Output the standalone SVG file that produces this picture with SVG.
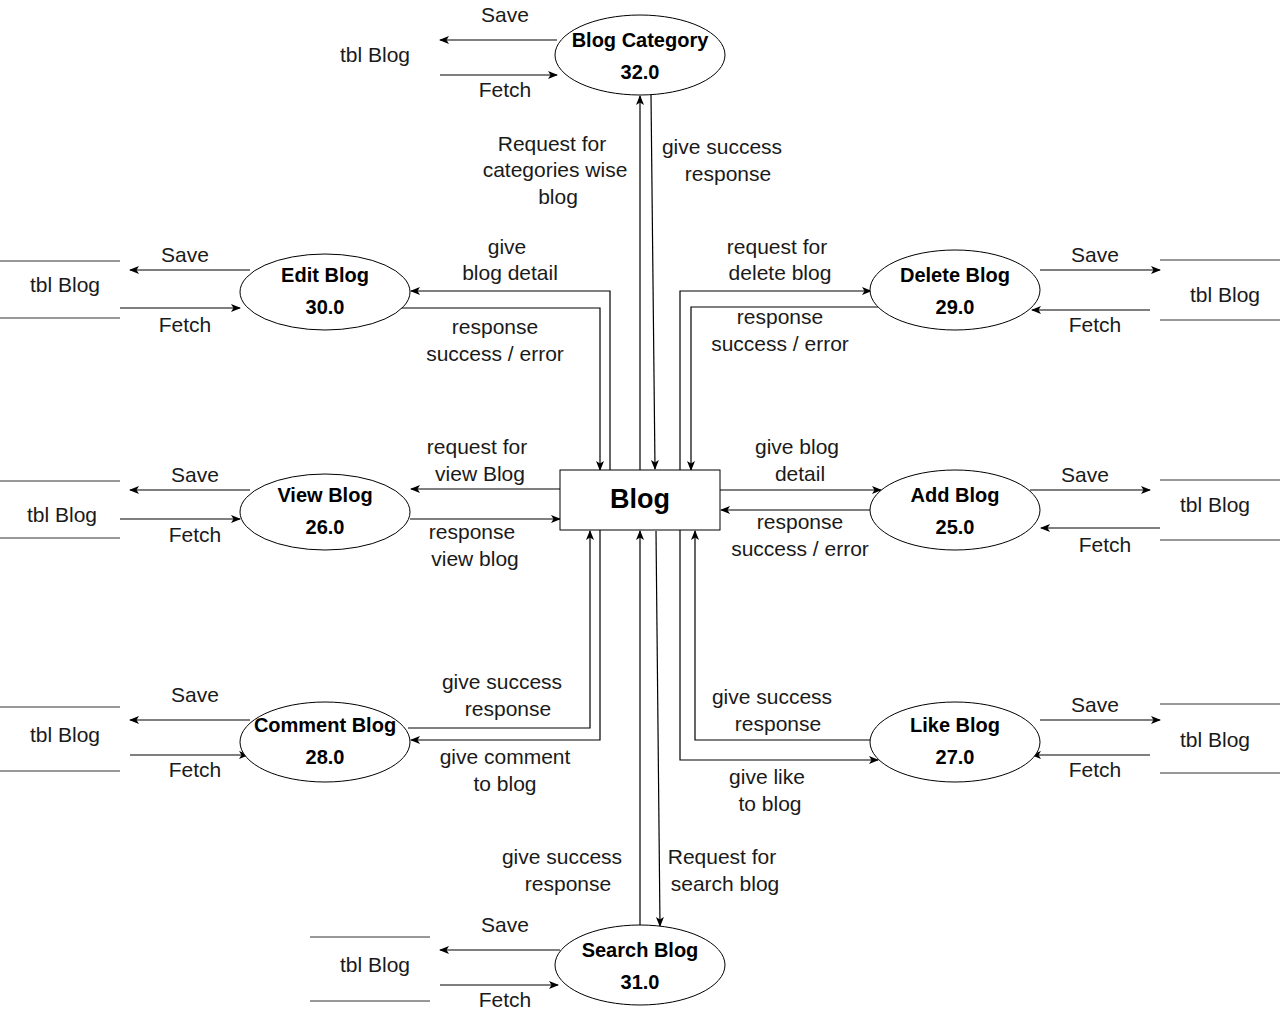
<svg xmlns="http://www.w3.org/2000/svg" width="1282" height="1016" viewBox="0 0 1282 1016">
<defs>
<marker id="arr" markerUnits="userSpaceOnUse" markerWidth="10" markerHeight="10" viewBox="0 0 10 10" refX="9" refY="5" orient="auto">
<path d="M0,1 L10,5 L0,9 L2.5,5 Z" fill="#000"/>
</marker>
<style>
.c{fill:none;stroke:#000;stroke-width:1.2;marker-end:url(#arr)}
.s{fill:none;stroke:#333;stroke-width:1}
.e{fill:#fff;stroke:#000;stroke-width:1}
.t{font-family:"Liberation Sans",Arial,sans-serif;font-size:21px;fill:#1a1a1a;text-anchor:middle;dominant-baseline:central}
.b{font-family:"Liberation Sans",Arial,sans-serif;font-size:20px;font-weight:bold;fill:#000;text-anchor:middle;dominant-baseline:central}
</style>
</defs>
<rect width="1282" height="1016" fill="#fff"/>

<g id="connectors">
<path class="c" d="M557,40 H440"/>
<path class="c" d="M440,75 H557"/>
<path class="c" d="M640,470 V96"/>
<path class="c" d="M651,95 L655,469"/>
<path class="c" d="M250,270 H130"/>
<path class="c" d="M120,308 H240"/>
<path class="c" d="M610,470 V291 H411"/>
<path class="c" d="M400,308 H600 V470"/>
<path class="c" d="M1040,270 H1160"/>
<path class="c" d="M1150,310 H1032"/>
<path class="c" d="M680,470 V291 H871"/>
<path class="c" d="M878,307 H691 V470"/>
<path class="c" d="M250,490 H130"/>
<path class="c" d="M120,519 H240"/>
<path class="c" d="M560,489 H411"/>
<path class="c" d="M410,519 H560"/>
<path class="c" d="M1030,490 H1150"/>
<path class="c" d="M1160,528 H1041"/>
<path class="c" d="M720,490 H881"/>
<path class="c" d="M870,510 H721"/>
<path class="c" d="M250,720 H130"/>
<path class="c" d="M130,755 H248"/>
<path class="c" d="M408,728 H590 V531"/>
<path class="c" d="M600,530 V740 H411"/>
<path class="c" d="M1040,720 H1160"/>
<path class="c" d="M1150,755 H1032"/>
<path class="c" d="M870,740 H695 V531"/>
<path class="c" d="M680,530 V760 H878"/>
<path class="c" d="M560,950 H440"/>
<path class="c" d="M440,985 H558"/>
<path class="c" d="M640,925 V531"/>
<path class="c" d="M656,531 L660,926"/>
</g>

<g id="labels" transform="translate(0,-1)">
<text class="t" x="505" y="15">Save</text>
<text class="t" x="505" y="90">Fetch</text>
<text class="t" x="552" y="144">Request for</text>
<text class="t" x="555" y="170">categories wise</text>
<text class="t" x="558" y="197">blog</text>
<text class="t" x="722" y="147">give success</text>
<text class="t" x="728" y="174">response</text>

<text class="t" x="185" y="255">Save</text>
<text class="t" x="185" y="325">Fetch</text>
<text class="t" x="507" y="247">give</text>
<text class="t" x="510" y="273">blog detail</text>
<text class="t" x="495" y="327">response</text>
<text class="t" x="495" y="354">success / error</text>

<text class="t" x="1095" y="255">Save</text>
<text class="t" x="1095" y="325">Fetch</text>
<text class="t" x="777" y="247">request for</text>
<text class="t" x="780" y="273">delete blog</text>
<text class="t" x="780" y="317">response</text>
<text class="t" x="780" y="344">success / error</text>

<text class="t" x="195" y="475">Save</text>
<text class="t" x="195" y="535">Fetch</text>
<text class="t" x="477" y="447">request for</text>
<text class="t" x="480" y="474">view Blog</text>
<text class="t" x="472" y="532">response</text>
<text class="t" x="475" y="559">view blog</text>

<text class="t" x="1085" y="475">Save</text>
<text class="t" x="1105" y="545">Fetch</text>
<text class="t" x="797" y="447">give blog</text>
<text class="t" x="800" y="474">detail</text>
<text class="t" x="800" y="522">response</text>
<text class="t" x="800" y="549">success / error</text>

<text class="t" x="195" y="695">Save</text>
<text class="t" x="195" y="770">Fetch</text>
<text class="t" x="502" y="682">give success</text>
<text class="t" x="508" y="709">response</text>
<text class="t" x="505" y="757">give comment</text>
<text class="t" x="505" y="784">to blog</text>

<text class="t" x="1095" y="705">Save</text>
<text class="t" x="1095" y="770">Fetch</text>
<text class="t" x="772" y="697">give success</text>
<text class="t" x="778" y="724">response</text>
<text class="t" x="767" y="777">give like</text>
<text class="t" x="770" y="804">to blog</text>

<text class="t" x="505" y="925">Save</text>
<text class="t" x="505" y="1000">Fetch</text>
<text class="t" x="562" y="857">give success</text>
<text class="t" x="568" y="884">response</text>
<text class="t" x="722" y="857">Request for</text>
<text class="t" x="725" y="884">search blog</text>

<text class="t" x="375" y="55">tbl Blog</text>
<text class="t" x="65" y="285">tbl Blog</text>
<text class="t" x="1225" y="295">tbl Blog</text>
<text class="t" x="62" y="515">tbl Blog</text>
<text class="t" x="1215" y="505">tbl Blog</text>
<text class="t" x="65" y="735">tbl Blog</text>
<text class="t" x="1215" y="740">tbl Blog</text>
<text class="t" x="375" y="965">tbl Blog</text>
</g>

<g id="blog">
<rect x="560" y="470" width="160" height="60" fill="#fff" stroke="#000" stroke-width="1"/>
<text class="b" x="640" y="499" style="font-size:27px">Blog</text>
</g>

<g id="blog-category">
<ellipse class="e" cx="640" cy="55" rx="85" ry="40"/>
<text class="b" x="640" y="40">Blog Category</text>
<text class="b" x="640" y="72">32.0</text>
</g>

<g id="edit-blog">
<ellipse class="e" cx="325" cy="292" rx="85" ry="38"/>
<text class="b" x="325" y="275">Edit Blog</text>
<text class="b" x="325" y="307">30.0</text>
</g>
<g id="store-edit">
<line class="s" x1="0" y1="261" x2="120" y2="261"/>
<line class="s" x1="0" y1="318" x2="120" y2="318"/>
</g>

<g id="delete-blog">
<ellipse class="e" cx="955" cy="290" rx="85" ry="40"/>
<text class="b" x="955" y="275">Delete Blog</text>
<text class="b" x="955" y="307">29.0</text>
</g>
<g id="store-delete">
<line class="s" x1="1160" y1="260" x2="1280" y2="260"/>
<line class="s" x1="1160" y1="320" x2="1280" y2="320"/>
</g>

<g id="view-blog">
<ellipse class="e" cx="325" cy="512" rx="85" ry="38"/>
<text class="b" x="325" y="495">View Blog</text>
<text class="b" x="325" y="527">26.0</text>
</g>
<g id="store-view">
<line class="s" x1="0" y1="481" x2="120" y2="481"/>
<line class="s" x1="0" y1="538" x2="120" y2="538"/>
</g>

<g id="add-blog">
<ellipse class="e" cx="955" cy="510" rx="85" ry="40"/>
<text class="b" x="955" y="495">Add Blog</text>
<text class="b" x="955" y="527">25.0</text>
</g>
<g id="store-add">
<line class="s" x1="1160" y1="480" x2="1280" y2="480"/>
<line class="s" x1="1160" y1="540" x2="1280" y2="540"/>
</g>

<g id="comment-blog">
<ellipse class="e" cx="325" cy="742" rx="85" ry="40"/>
<text class="b" x="325" y="725">Comment Blog</text>
<text class="b" x="325" y="757">28.0</text>
</g>
<g id="store-comment">
<line class="s" x1="0" y1="707" x2="120" y2="707"/>
<line class="s" x1="0" y1="771" x2="120" y2="771"/>
</g>

<g id="like-blog">
<ellipse class="e" cx="955" cy="742" rx="85" ry="40"/>
<text class="b" x="955" y="725">Like Blog</text>
<text class="b" x="955" y="757">27.0</text>
</g>
<g id="store-like">
<line class="s" x1="1160" y1="704" x2="1280" y2="704"/>
<line class="s" x1="1160" y1="773" x2="1280" y2="773"/>
</g>

<g id="search-blog">
<ellipse class="e" cx="640" cy="965" rx="85" ry="40"/>
<text class="b" x="640" y="950">Search Blog</text>
<text class="b" x="640" y="982">31.0</text>
</g>
<g id="store-search">
<line class="s" x1="310" y1="937" x2="430" y2="937"/>
<line class="s" x1="310" y1="1001" x2="430" y2="1001"/>
</g>
</svg>
